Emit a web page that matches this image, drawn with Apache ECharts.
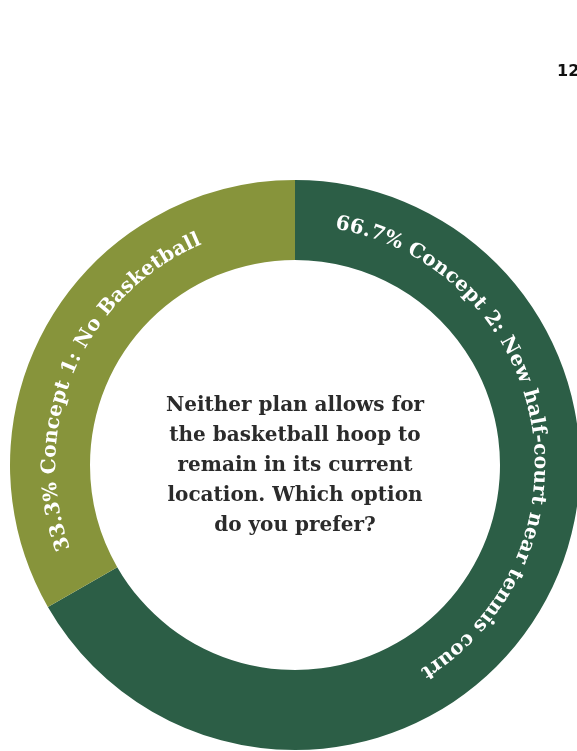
<!DOCTYPE html>
<html>
<head>
<meta charset="utf-8">
<script src="https://cdn.jsdelivr.net/npm/echarts@6/dist/echarts.min.js"></script>
<style>
html,body{margin:0;padding:0;background:#fff;}
#chart{width:577px;height:751px;}
</style>
</head>
<body>
<div id="chart"></div>
<script>
// ---- data ----
const categories = ['Concept 2: New half-court near tennis court', 'Concept 1: No Basketball'];
const values = [66.7, 33.3];
const colors = ['#2C5E46', '#87943B'];
const centerText = 'Neither plan allows for\nthe basketball hoop to\nremain in its current\nlocation. Which option\ndo you prefer?';
const pageNumber = '12';

// ---- layout ----
const CX = 295, CY = 465, R_OUT = 285, R_IN = 205;
const LABEL_R = 245;
const LABEL_OFFSET_DEG = 9.5;
const LABEL_FONT = 'bold 20px "DejaVu Serif"';
const LETTER_SPACING = 0.5;

const ctx = document.createElement('canvas').getContext('2d');
ctx.font = LABEL_FONT;

const total = values.reduce((a, b) => a + b, 0);
const charData = [];
let cum = 0;
values.forEach((v, i) => {
  const startDeg = cum / total * 360;
  cum += v;
  const text = v.toFixed(1) + '% ' + categories[i];
  let ang = startDeg + LABEL_OFFSET_DEG;
  for (const ch of text) {
    const w = ctx.measureText(ch).width + LETTER_SPACING;
    const half = (w / 2) / LABEL_R * 180 / Math.PI;
    ang += half;
    charData.push([LABEL_R, ang, ch]);
    ang += half;
  }
});

const chart = echarts.init(document.getElementById('chart'), null, {renderer: 'canvas'});
chart.setOption({
  animation: false,
  backgroundColor: '#ffffff',
  polar: {center: [CX, CY], radius: R_OUT},
  angleAxis: {type: 'value', min: 0, max: 360, startAngle: 90, clockwise: true, show: false},
  radiusAxis: {type: 'value', min: 0, max: R_OUT, show: false},
  title: {
    text: pageNumber, left: 557, top: 64, padding: 0,
    textStyle: {fontFamily: 'DejaVu Sans', fontWeight: 'bold', fontSize: 16, color: '#111'}
  },
  graphic: [{
    type: 'text', x: CX, y: CY + 1, silent: true,
    style: {
      text: centerText, align: 'center', verticalAlign: 'middle',
      font: 'bold 20px "DejaVu Serif"', lineHeight: 30, fill: '#2b2b2b'
    }
  }],
  series: [{
    type: 'pie',
    center: [CX, CY],
    radius: [R_IN, R_OUT],
    startAngle: 90,
    clockwise: true,
    silent: true,
    label: {show: false},
    labelLine: {show: false},
    itemStyle: {borderWidth: 0},
    data: categories.map((c, i) => ({name: c, value: values[i], itemStyle: {color: colors[i]}})),
    z: 1
  }, {
    type: 'custom',
    coordinateSystem: 'polar',
    silent: true,
    z: 5,
    data: charData,
    renderItem: function (params, api) {
      const p = api.coord([api.value(0), api.value(1)]);
      const deg = charData[params.dataIndex][1];
      return {
        type: 'text',
        x: p[0], y: p[1],
        rotation: -deg * Math.PI / 180,
        style: {
          text: charData[params.dataIndex][2],
          fill: '#ffffff',
          font: LABEL_FONT,
          align: 'center',
          verticalAlign: 'middle'
        }
      };
    }
  }]
});
</script>
</body>
</html>
